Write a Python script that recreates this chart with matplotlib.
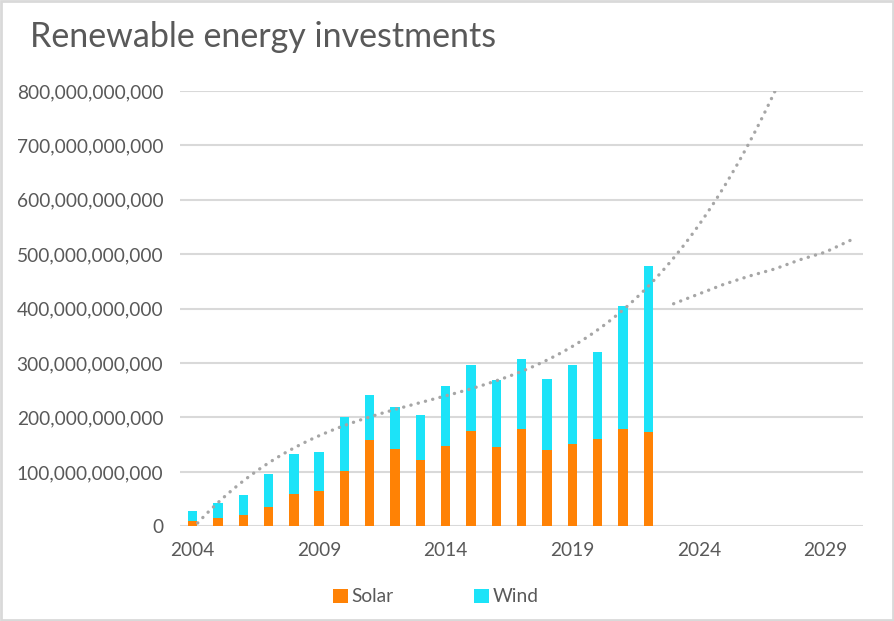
import numpy as np
import matplotlib.pyplot as plt
from matplotlib.patches import Rectangle
from matplotlib.ticker import FuncFormatter

# data (values in billions)
years = np.arange(2004, 2023)
solar = [9, 15, 21, 36, 60, 64, 102, 158, 142, 121, 148, 175, 146, 179, 140, 152, 160, 179, 173]
total = [28, 42, 58, 96, 132, 136, 200, 242, 219, 204, 258, 296, 269, 308, 271, 296, 320, 404, 479]
wind = [t - s for t, s in zip(total, solar)]

# second dotted line
fc_years = [2023, 2024, 2025, 2026, 2027, 2028, 2029, 2030]
fc_vals = [409, 427, 445, 460, 473, 490, 504, 526]

B = 1e9
solar_c = '#FF8205'
wind_c = '#1CE3F8'
grid_c = '#D9D9D9'
text_c = '#595959'
trend_c = '#A6A6A6'
dots = (0, (0.05, 2.2))

plt.rcParams['font.family'] = ['Lato', 'DejaVu Sans']

fig = plt.figure(figsize=(8.95, 6.21), dpi=100)
ax = fig.add_axes([0.201, 0.1525, 0.7638, 0.701])

ax.bar(years, np.array(solar) * B, width=0.37, color=solar_c, label='Solar', zorder=3)
ax.bar(years, np.array(wind) * B, width=0.37, bottom=np.array(solar) * B,
       color=wind_c, label='Wind', zorder=3)

# cubic trendline on totals, forecast 5 years forward (like excel)
coef = np.polyfit(years - 2004, np.array(total) * B, 3)
tx = np.linspace(2004, 2027, 200)
ty = np.polyval(coef, tx - 2004)
ax.plot(tx, ty, linestyle=dots, color=trend_c, lw=2.4, zorder=4, dash_capstyle='round')
ax.plot(fc_years, np.array(fc_vals) * B, linestyle=dots, color=trend_c, lw=2.4,
        zorder=4, dash_capstyle='round')

ax.set_xlim(2003.5, 2030.5)
ax.set_ylim(0, 800 * B)
ax.set_yticks(np.arange(0, 801, 100) * B)
ax.set_xticks(np.arange(2004, 2030, 5))
ax.yaxis.set_major_formatter(FuncFormatter(lambda v, p: f'{int(round(v)):,}'))
ax.grid(axis='y', color=grid_c, lw=1.5, zorder=0)
ax.set_axisbelow(True)
for s in ax.spines.values():
    s.set_visible(False)
ax.tick_params(length=0, labelsize=13.8, labelcolor=text_c)
ax.tick_params(axis='y', pad=12)
ax.tick_params(axis='x', pad=11)

fig.text(0.033, 0.94, 'Renewable energy investments', fontsize=24.5, color=text_c, va='center')

fig.legend(loc='center', bbox_to_anchor=(0.487, 0.039), ncol=2, frameon=False,
           fontsize=13.8, labelcolor=text_c, handlelength=0.75, handleheight=0.75,
           handletextpad=0.2, columnspacing=4.2)

fig.patches.append(Rectangle((0.001, 0.001), 0.997, 0.997, transform=fig.transFigure,
                             fill=False, edgecolor=grid_c, lw=2))

fig.savefig('out.png', dpi=100, facecolor='white')
